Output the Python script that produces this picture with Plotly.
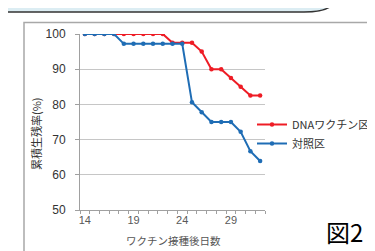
import plotly.graph_objects as go

days = list(range(14, 33))
dna_vaccine = [100, 100, 100, 100, 100, 100, 100, 100, 100, 97.5, 97.5, 97.5, 95, 90, 90, 87.5, 85, 82.5, 82.5]
control = [100, 100, 100, 100, 97.2, 97.2, 97.2, 97.2, 97.2, 97.2, 97.2, 80.6, 77.8, 75, 75, 75, 72.2, 66.7, 63.9]
series_names = ["DNAワクチン区", "対照区"]
x_tick_vals = [14, 19, 24, 29]
y_tick_vals = [50, 60, 70, 80, 90, 100]

W, H = 375, 251
L, R, T, B = 72, 257, 26, 202


def px(x):
    return (x - L) / (R - L)


def py(y):
    return (B - y) / (B - T)


RED = "#ee1c25"
BLUE = "#1f6db5"

fig = go.Figure()
fig.add_trace(go.Scatter(x=days, y=dna_vaccine, name=series_names[0], mode="lines+markers",
                         line=dict(color=RED, width=2), marker=dict(size=4.5, color=RED)))
fig.add_trace(go.Scatter(x=days, y=control, name=series_names[1], mode="lines+markers",
                         line=dict(color=BLUE, width=2), marker=dict(size=4.5, color=BLUE)))

shapes = []
# outer chart frame
shapes.append(dict(type="rect", xref="paper", yref="paper",
                   x0=px(16), x1=px(371), y0=py(262), y1=py(14.5),
                   line=dict(color="#a8a8a8", width=1.5), fillcolor="rgba(0,0,0,0)", layer="below"))
# callout box at top
path = (f"M {px(-10)},{py(-10)} L {px(-10)},{py(4)} L {px(296)},{py(4)} "
        f"Q {px(316)},{py(4)} {px(323)},{py(-2)} L {px(323)},{py(-10)} Z")
shapes.append(dict(type="path", xref="paper", yref="paper", path=path,
                   fillcolor="#dcedf3", line=dict(color="#333333", width=1.5)))

annotations = [
    dict(text="累積生残率(%)", xref="paper", yref="paper", x=px(28), y=py(126),
         xanchor="center", yanchor="middle",
         textangle=-90, showarrow=False, font=dict(size=11, color="#333333", family="Noto Sans CJK JP")),
    dict(text="ワクチン接種後日数", xref="paper", yref="paper", x=px(165), y=py(232),
         xanchor="center", yanchor="middle",
         showarrow=False, font=dict(size=10.5, color="#555555", family="Noto Sans CJK JP")),
    dict(text="図2", xref="paper", yref="paper", x=px(336), y=py(223),
         xanchor="center", yanchor="middle",
         showarrow=False, font=dict(size=24, color="#000000", family="Noto Sans CJK JP")),
]

fig.update_layout(
    width=W, height=H,
    margin=dict(l=L, r=W - R, t=T, b=H - B, pad=0, autoexpand=False),
    paper_bgcolor="white", plot_bgcolor="white",
    font=dict(family="Liberation Sans, Arial, sans-serif", size=11, color="#333333"),
    showlegend=True,
    legend=dict(x=px(244), y=py(102), xanchor="left", yanchor="top",
                font=dict(size=11, color="#333333", family="Noto Sans CJK JP"),
                itemwidth=30, tracegroupgap=0, bgcolor="rgba(0,0,0,0)"),
    shapes=shapes,
    annotations=annotations,
    xaxis=dict(range=[13.5, 32.5], tickmode="array", tickvals=x_tick_vals,
               ticks="", showgrid=False, zeroline=False,
               showline=True, linecolor="#a0a0a0", linewidth=1,
               tickfont=dict(size=11, color="#595959"),
               minor=dict(tickmode="linear", tick0=13.5, dtick=1, ticks="outside",
                          ticklen=3, tickcolor="#a0a0a0", showgrid=False),
               fixedrange=True),
    yaxis=dict(range=[50, 100], tickmode="array", tickvals=y_tick_vals,
               ticks="outside", ticklen=4, tickcolor="#a0a0a0", ticklabelstandoff=7,
               showgrid=True, gridcolor="#c6c6c6", gridwidth=1, zeroline=False,
               showline=True, linecolor="#a0a0a0", linewidth=1,
               tickfont=dict(size=12, color="#333333"),
               fixedrange=True),
)

fig.write_html("out.html")
